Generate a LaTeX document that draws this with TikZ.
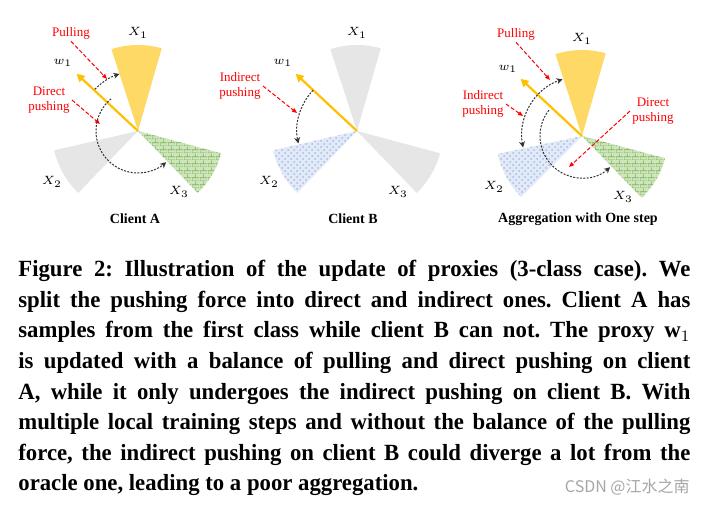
\documentclass[tikz,border=0pt]{standalone}
\usepackage{fontspec}
\setmainfont{Liberation Serif}
\newfontfamily\capfont[FakeStretch=0.98]{Liberation Serif}
\newfontfamily\cjk{Noto Sans CJK SC}
\usetikzlibrary{arrows.meta,patterns}
\definecolor{sectgray}{RGB}{230,230,230}
\definecolor{sectyellow}{RGB}{255,217,102}
\definecolor{sectgreen}{RGB}{125,180,85}
\definecolor{sectgreenbg}{RGB}{205,228,188}
\definecolor{sectblue}{RGB}{165,188,230}
\definecolor{sectbluebg}{RGB}{226,233,247}
\definecolor{proxyorange}{RGB}{255,192,0}
% fine brick texture for the third class
\pgfdeclarepatternformonly{smallbricks}{\pgfpointorigin}{\pgfqpoint{4pt}{3.6pt}}{\pgfqpoint{4pt}{3.6pt}}{
    \pgfsetlinewidth{0.35pt}
    \pgfpathmoveto{\pgfqpoint{0pt}{0pt}}\pgfpathlineto{\pgfqpoint{4pt}{0pt}}
    \pgfpathmoveto{\pgfqpoint{0pt}{1.8pt}}\pgfpathlineto{\pgfqpoint{4pt}{1.8pt}}
    \pgfpathmoveto{\pgfqpoint{0pt}{0pt}}\pgfpathlineto{\pgfqpoint{0pt}{1.8pt}}
    \pgfpathmoveto{\pgfqpoint{2pt}{1.8pt}}\pgfpathlineto{\pgfqpoint{2pt}{3.6pt}}
    \pgfusepath{stroke}}
\tikzstyle{graysector} = [fill=sectgray]
\tikzstyle{yellowsector} = [fill=sectyellow]
\tikzstyle{greensector} = [fill=sectgreenbg, postaction={pattern=smallbricks, pattern color=sectgreen}]
\tikzstyle{bluesector} = [fill=sectbluebg, postaction={pattern=crosshatch dots, pattern color=sectblue}]
\tikzstyle{proxyarrow} = [draw=proxyorange, line width=1.1pt, -{Triangle[length=4pt,width=4pt]}]
\tikzstyle{forcearrow} = [draw=red, line width=0.5pt, dash pattern=on 2pt off 1pt,
    -{Triangle[length=2.5pt,width=2pt]}]
\tikzstyle{movearc} = [draw=black!80, line width=0.5pt, dash pattern=on 1pt off 0.7pt,
    -{Stealth[length=3pt,width=3pt]}]
\tikzstyle{forcelabel} = [text=red, font=\fontsize{6.5}{7.6}\selectfont, align=center, inner sep=1pt]
\tikzstyle{classlabel} = [font=\fontsize{6.5}{8}\selectfont, inner sep=0pt]
\tikzstyle{clientlabel} = [font=\fontsize{7}{8}\selectfont\bfseries, inner sep=0pt]

\begin{document}
\begin{tikzpicture}[x=0.5pt, y=0.5pt]
    \useasboundingbox[fill=white] (0,0) rectangle (707,-504);

    % client A
    \begin{scope}[shift={(138,-131)}]
        \coordinate (cA) at (0,0);
        \fill[yellowsector] (cA) -- ++(74:86) arc (74:108:86) -- cycle;
        \fill[graysector] (cA) -- ++(193:86) arc (193:226:86) -- cycle;
        \fill[greensector] (cA) -- ++(-46:86) arc (-46:-15:86) -- cycle;
        \draw[proxyarrow] (cA) -- (137:84);
        \node[classlabel] (xA1) at (0,98) {$X_1$};
        \node[classlabel] (xA2) at (-86,-51) {$X_2$};
        \node[classlabel] (xA3) at (41,-61) {$X_3$};
        \node[classlabel] (wA) at (-75,68) {$w_1$};
        \node[forcelabel] (pullA) at (-67,98) {Pulling};
        \node[forcelabel] (dirA) at (-89,31) {Direct\\pushing};
        \coordinate (pullAend) at (-31,52);
        \coordinate (dirAend) at (-38,7);
        \draw[forcearrow] (pullA.south) -- (pullAend);
        \draw[forcearrow] (dirA.east) -- (dirAend);
        \draw[movearc] ([shift={(136:60)}]cA) arc (136:108:60);
        \draw[movearc] ([shift={(130:42)}]cA) arc (130:312:42);
    \end{scope}
    \node[clientlabel] (clientA) at (135,-219) {Client A};

    % client B
    \begin{scope}[shift={(357,-131)}]
        \coordinate (cB) at (0,0);
        \fill[graysector] (cB) -- ++(74:86) arc (74:108:86) -- cycle;
        \fill[bluesector] (cB) -- ++(193:86) arc (193:226:86) -- cycle;
        \fill[graysector] (cB) -- ++(-46:86) arc (-46:-15:86) -- cycle;
        \draw[proxyarrow] (cB) -- (137:84);
        \node[classlabel] (xB1) at (0,98) {$X_1$};
        \node[classlabel] (xB2) at (-88,-51) {$X_2$};
        \node[classlabel] (xB3) at (41,-61) {$X_3$};
        \node[classlabel] (wB) at (-74,68) {$w_1$};
        \node[forcelabel] (indB) at (-117,45) {Indirect\\pushing};
        \coordinate (indBend) at (-60,18);
        \draw[forcearrow] (indB.east) -- (indBend);
        \draw[movearc] ([shift={(137:60)}]cB) arc (137:192:60);
    \end{scope}
    \node[clientlabel] (clientB) at (353,-219) {Client B};

    % aggregation
    \begin{scope}[shift={(582,-136)}]
        \coordinate (cC) at (0,0);
        \fill[yellowsector] (cC) -- ++(74:86) arc (74:108:86) -- cycle;
        \fill[bluesector] (cC) -- ++(192:86) arc (192:225:86) -- cycle;
        \fill[greensector] (cC) -- ++(-46:86) arc (-46:-15:86) -- cycle;
        \draw[proxyarrow] (cC) -- (137:84);
        \node[classlabel] (xC1) at (0,97) {$X_1$};
        \node[classlabel] (xC2) at (-88,-51) {$X_2$};
        \node[classlabel] (xC3) at (41,-61) {$X_3$};
        \node[classlabel] (wC) at (-74,67) {$w_1$};
        \node[forcelabel] (pullC) at (-66,102) {Pulling};
        \node[forcelabel] (indC) at (-99,32) {Indirect\\pushing};
        \node[forcelabel] (dirC) at (71,25) {Direct\\pushing};
        \coordinate (pullCend) at (-32,56);
        \coordinate (indCend) at (-59,20);
        \coordinate (dirCend) at (-13,-31);
        \draw[forcearrow] (pullC.south) -- (pullCend);
        \draw[forcearrow] (indC.east) -- (indCend);
        \draw[forcearrow] (dirC.west) -- (dirCend);
        \draw[movearc, {Stealth[length=3pt,width=3pt]}-{Stealth[length=3pt,width=3pt]}]
            ([shift={(191:60)}]cC) arc (191:109:60);
        \draw[movearc] ([shift={(142:42)}]cC) arc (142:312:42);
    \end{scope}
    \node[clientlabel] (clientC) at (578,-219) {Aggregation with One step};

    % caption
    \node[anchor=north west, inner sep=0pt, text width=336pt, align=justify,
        font=\capfont\bfseries\fontsize{11.6}{15.3}\selectfont\frenchspacing] (caption) at (18,-260) {%
        Figure 2: Illustration of the update of proxies (3-class case). We\linebreak
        split the pushing force into direct and indirect ones. Client A has\linebreak
        samples from the first class while client B can not. The proxy w$_1$\linebreak
        is updated with a balance of pulling and direct pushing on client\linebreak
        A, while it only undergoes the indirect pushing on client B. With\linebreak
        multiple local training steps and without the balance of the pulling\linebreak
        force, the indirect pushing on client B could diverge a lot from the\linebreak
        oracle one, leading to a poor aggregation.};
    \node[anchor=east, inner sep=0pt, text=black!35,
        font=\cjk\fontsize{8}{9}\selectfont] (mark) at (690,-487) {CSDN @江水之南};
\end{tikzpicture}
\end{document}
